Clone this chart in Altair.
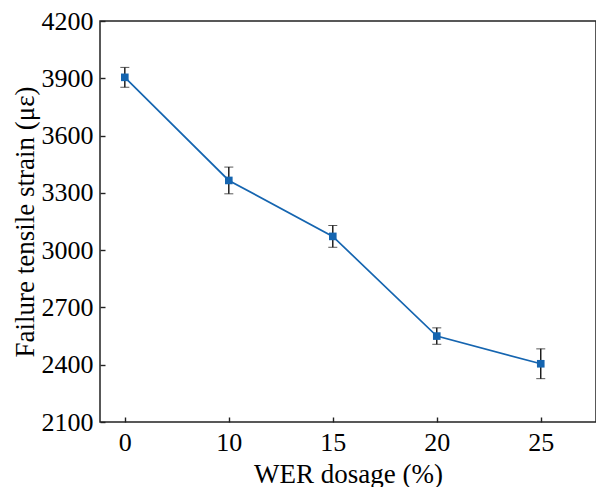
import altair as alt
import pandas as pd

dosage = ["0", "10", "15", "20", "25"]
strain = [3905, 3365, 3072, 2550, 2405]
err = [52, 70, 57, 43, 78]
yticks = [2100, 2400, 2700, 3000, 3300, 3600, 3900, 4200]

df = pd.DataFrame({
    "dosage": dosage,
    "strain": strain,
    "lo": [s - e for s, e in zip(strain, err)],
    "hi": [s + e for s, e in zip(strain, err)],
})

FONT = "Liberation Serif"
BLUE = "#1565b0"
W, H = 496, 401

xscale = alt.Scale(type="point", domain=dosage, padding=0.385, align=0.31)
yscale = alt.Scale(domain=[2100, 4200], nice=False, zero=False)

x_main = alt.X("dosage:O", sort=dosage, scale=xscale,
               axis=alt.Axis(title="WER dosage (%)", orient="bottom", ticks=False, domain=False,
                             labelAngle=0, labelPadding=7, titlePadding=6,
                             labelFont=FONT, titleFont=FONT, labelFontSize=26, titleFontSize=27,
                             titleFontWeight="normal", labelColor="black", titleColor="black"))
y_main = alt.Y("strain:Q", scale=yscale,
               axis=alt.Axis(title="Failure tensile strain (με)", orient="left", ticks=False, domain=False,
                             values=yticks, format="d",
                             labelPadding=7, titlePadding=2, grid=False,
                             labelFont=FONT, titleFont=FONT, labelFontSize=26, titleFontSize=27,
                             titleFontWeight="normal", labelColor="black", titleColor="black"))

line = alt.Chart(df).mark_line(color=BLUE, strokeWidth=1.7).encode(x=x_main, y=y_main)

errbars = alt.Chart(df).mark_errorbar(ticks=alt.MarkConfig(size=9, color="#111", strokeWidth=1.4),
                                      rule=alt.MarkConfig(color="#111", strokeWidth=1.4),
                                      color="#111").encode(
    x=alt.X("dosage:O", sort=dosage, scale=xscale, axis=None),
    y=alt.Y("lo:Q", scale=yscale, axis=None),
    y2="hi:Q",
)

points = alt.Chart(df).mark_square(color=BLUE, size=58, opacity=1).encode(
    x=alt.X("dosage:O", sort=dosage, scale=xscale, axis=None),
    y=alt.Y("strain:Q", scale=yscale, axis=None),
)

# inward ticks: axes placed on opposite side and shifted across the plot
tick_layer = alt.Chart(df).mark_point(opacity=0).encode(
    x=alt.X("dosage:O", sort=dosage, scale=xscale,
            axis=alt.Axis(orient="top", offset=-H, labels=False, domain=False, ticks=True,
                          tickSize=5, tickColor="#222", tickWidth=1.4, title=None)),
    y=alt.Y("strain:Q", scale=yscale,
            axis=alt.Axis(orient="right", offset=-W, labels=False, domain=False, ticks=True,
                          values=yticks,
                          tickSize=5, tickColor="#222", tickWidth=1.4, title=None, grid=False)),
)

chart = alt.layer(line, errbars, points, tick_layer).resolve_axis(
    x="independent", y="independent"
).properties(
    width=W, height=H, background="white",
    padding={"left": 3, "top": 0, "right": 0, "bottom": 0}
).configure_view(
    stroke="#222", strokeWidth=1.5
)

chart.save("out.html", embed_options={"renderer": "svg", "actions": False})
